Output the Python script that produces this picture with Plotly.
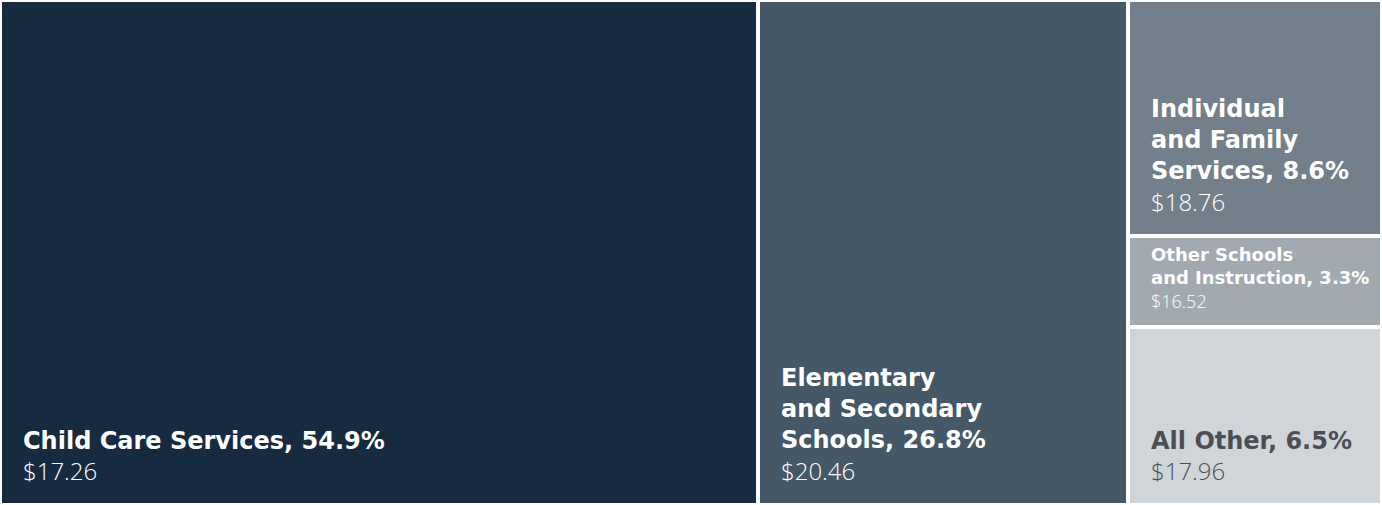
import plotly.graph_objects as go

# Share of employment and median hourly wage by industry
categories = [
    "Child Care Services",
    "Elementary and Secondary Schools",
    "Individual and Family Services",
    "Other Schools and Instruction",
    "All Other",
]
share_pct = [54.9, 26.8, 8.6, 3.3, 6.5]
hourly_wage = [17.26, 20.46, 18.76, 16.52, 17.96]

# Name as printed on each tile, with its line breaks
display_names = [
    "Child Care Services",
    "Elementary<br>and Secondary<br>Schools",
    "Individual<br>and Family<br>Services",
    "Other Schools<br>and Instruction",
    "All Other",
]

# Tiles grouped into columns, left to right; a column's tiles stack top to bottom
columns = [[0], [1], [2, 3, 4]]

# Styling
tile_colors = ["#172b40", "#455867", "#737f8a", "#a0aab0", "#d0d5d9"]
text_colors = ["#ffffff", "#ffffff", "#ffffff", "#ffffff", "#4b4f54"]
label_sizes = [24, 24, 24, 18, 24]
GAP_COLOR = "#ffffff"
GAP_WIDTH = 4

total = sum(share_pct)

fig = go.Figure()
annotations = []

x_left = 0.0
for members in columns:
    col_width = sum(share_pct[i] for i in members)
    y_top = 100.0
    for i in members:
        height = share_pct[i] / col_width * 100.0
        # keep float round-off from pushing the last tile below the axis
        y_bottom = max(0.0, round(y_top - height, 9))
        fig.add_trace(
            go.Bar(
                x=[x_left + col_width / 2],
                y=[y_top - y_bottom],
                base=[y_bottom],
                width=[col_width],
                name=categories[i],
                marker=dict(
                    color=tile_colors[i],
                    line=dict(color=GAP_COLOR, width=GAP_WIDTH),
                ),
                hovertemplate=(
                    f"{categories[i]}<br>{share_pct[i]:.1f}%<br>"
                    f"${hourly_wage[i]:.2f}<extra></extra>"
                ),
                showlegend=False,
            )
        )
        size = label_sizes[i]
        label = (
            f"<b>{display_names[i]}, {share_pct[i]:.1f}%</b><br>"
            f"<span style=\"font-family:'Open Sans';font-weight:300\">"
            f"${hourly_wage[i]:.2f}</span>"
        )
        annotations.append(
            dict(
                x=x_left,
                y=y_bottom,
                xref="x",
                yref="y",
                xanchor="left",
                yanchor="bottom",
                xshift=21,
                yshift=16 if size >= 24 else 12,
                align="left",
                showarrow=False,
                text=label,
                font=dict(family="DejaVu Sans", size=size, color=text_colors[i]),
            )
        )
        y_top = y_bottom
    x_left += col_width

fig.update_layout(
    width=1382,
    height=505,
    margin=dict(l=0, r=0, t=0, b=0),
    paper_bgcolor="#ffffff",
    plot_bgcolor="#ffffff",
    barmode="overlay",
    bargap=0,
    annotations=annotations,
    xaxis=dict(range=[0, total], visible=False, fixedrange=True),
    yaxis=dict(range=[0, 100], visible=False, fixedrange=True),
)

fig.write_html("out.html", config={"displayModeBar": False})
